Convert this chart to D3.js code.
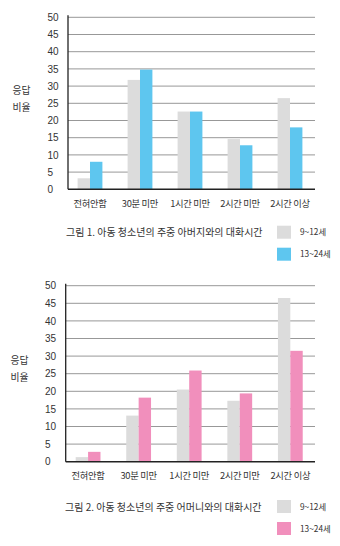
<!DOCTYPE html>
<html>
<head>
<meta charset="utf-8">
<script src="https://cdn.jsdelivr.net/npm/d3@7"></script>
<style>
  html, body { margin: 0; padding: 0; background: #fff; }
  svg { display: block; }
  text { font-family: "Noto Sans CJK KR", "Noto Sans", sans-serif; fill: #333; }
  .num { font-family: "Liberation Sans", "DejaVu Sans", sans-serif; }
</style>
</head>
<body>
<svg id="chart" width="340" height="546"></svg>
<script>
// Categories: weekday conversation time
const categories = ["전혀안함", "30분 미만", "1시간 미만", "2시간 미만", "2시간 이상"];
const seriesNames = ["9~12세", "13~24세"];
const yTicks = [0, 5, 10, 15, 20, 25, 30, 35, 40, 45, 50];

// Figure 1: with father (%)
const fatherAge9to12 = [3.2, 31.8, 22.6, 14.6, 26.5];
const fatherAge13to24 = [8.0, 34.8, 22.6, 12.8, 18.0];

// Figure 2: with mother (%)
const motherAge9to12 = [1.3, 13.1, 20.5, 17.3, 46.5];
const motherAge13to24 = [2.8, 18.2, 25.9, 19.4, 31.5];

const captions = [
  "그림 1. 아동 청소년의 주중 아버지와의 대화시간",
  "그림 2. 아동 청소년의 주중 어머니와의 대화시간"
];

const svg = d3.select("#chart");

function drawPanel(opt) {
  const g = svg.append("g");
  const y = d3.scaleLinear().domain([0, 50]).range([opt.bottom, opt.top]);
  const x = d3.scaleBand().domain(categories).range(opt.xRange).padding(0);
  const xs = d3.scaleBand().domain(seriesNames).range([-12.4, 12.4]).padding(0);
  const color = d3.scaleOrdinal().domain(seriesNames).range(["#dcdcdc", opt.accent]);

  // horizontal grid lines
  g.append("g").selectAll("line")
    .data(yTicks.filter(d => d > 0))
    .join("line")
    .attr("x1", opt.axisX).attr("x2", 315)
    .attr("y1", d => y(d)).attr("y2", d => y(d))
    .attr("stroke", "#8c8c8c").attr("stroke-width", 0.9);

  // tick labels
  g.append("g").selectAll("text")
    .data(yTicks)
    .join("text")
    .attr("class", "num")
    .attr("x", opt.tickX)
    .attr("y", d => y(d) + 3.6)
    .attr("font-size", 10)
    .attr("fill", "#444")
    .text(d => d);

  // bars
  const rows = categories.map((c, i) => ({ c, vals: [opt.a[i], opt.b[i]] }));
  g.append("g").selectAll("g")
    .data(rows)
    .join("g")
    .attr("transform", d => `translate(${x(d.c) + x.bandwidth() / 2},0)`)
    .selectAll("rect")
    .data(d => d.vals.map((v, k) => ({ s: seriesNames[k], v })))
    .join("rect")
    .attr("x", d => xs(d.s))
    .attr("width", xs.bandwidth())
    .attr("y", d => y(d.v))
    .attr("height", d => y(0) - y(d.v))
    .attr("fill", d => color(d.s));

  // axes lines
  g.append("line")
    .attr("x1", opt.axisX).attr("x2", opt.axisX)
    .attr("y1", opt.top - 2).attr("y2", opt.bottom)
    .attr("stroke", "#222").attr("stroke-width", 1.3);
  g.append("line")
    .attr("x1", opt.axisX).attr("x2", 315)
    .attr("y1", opt.bottom).attr("y2", opt.bottom)
    .attr("stroke", "#222").attr("stroke-width", 1.5);

  // category labels
  g.append("g").selectAll("text")
    .data(categories)
    .join("text")
    .attr("x", d => x(d) + x.bandwidth() / 2)
    .attr("y", opt.catY)
    .attr("text-anchor", "middle")
    .attr("font-size", 9.3)
    .attr("letter-spacing", -0.3)
    .text(d => d);

  // y title
  g.append("text").attr("x", opt.titleX).attr("y", opt.titleY).attr("text-anchor", "middle")
    .attr("font-size", 9.8).text("응답");
  g.append("text").attr("x", opt.titleX).attr("y", opt.titleY + 17.5).attr("text-anchor", "middle")
    .attr("font-size", 9.8).text("비율");

  // caption
  g.append("text").attr("x", opt.capX).attr("y", opt.capY)
    .attr("font-size", 10).text(opt.caption);

  // legend
  const lg = g.append("g").selectAll("g")
    .data(seriesNames)
    .join("g")
    .attr("transform", (d, i) => `translate(277,${opt.legY + i * 22})`);
  lg.append("rect").attr("width", 14).attr("height", 13).attr("fill", d => color(d));
  lg.append("text").attr("x", 23).attr("y", 9.5).attr("font-size", 8.3).text(d => d);
}

drawPanel({
  a: fatherAge9to12, b: fatherAge13to24, accent: "#5ec6ef",
  top: 17.3, bottom: 189.3, xRange: [65, 315], axisX: 68, tickX: 47.5,
  catY: 206.5, titleX: 21.5, titleY: 93.5, capX: 66, capY: 236, legY: 225.7,
  caption: captions[0]
});

drawPanel({
  a: motherAge9to12, b: motherAge13to24, accent: "#f18fbc",
  top: 285.7, bottom: 461.7, xRange: [62.8, 315.6], axisX: 65.7, tickX: 45,
  catY: 479, titleX: 19.5, titleY: 363.5, capX: 65, capY: 510.5, legY: 500,
  caption: captions[1]
});
</script>
</body>
</html>
